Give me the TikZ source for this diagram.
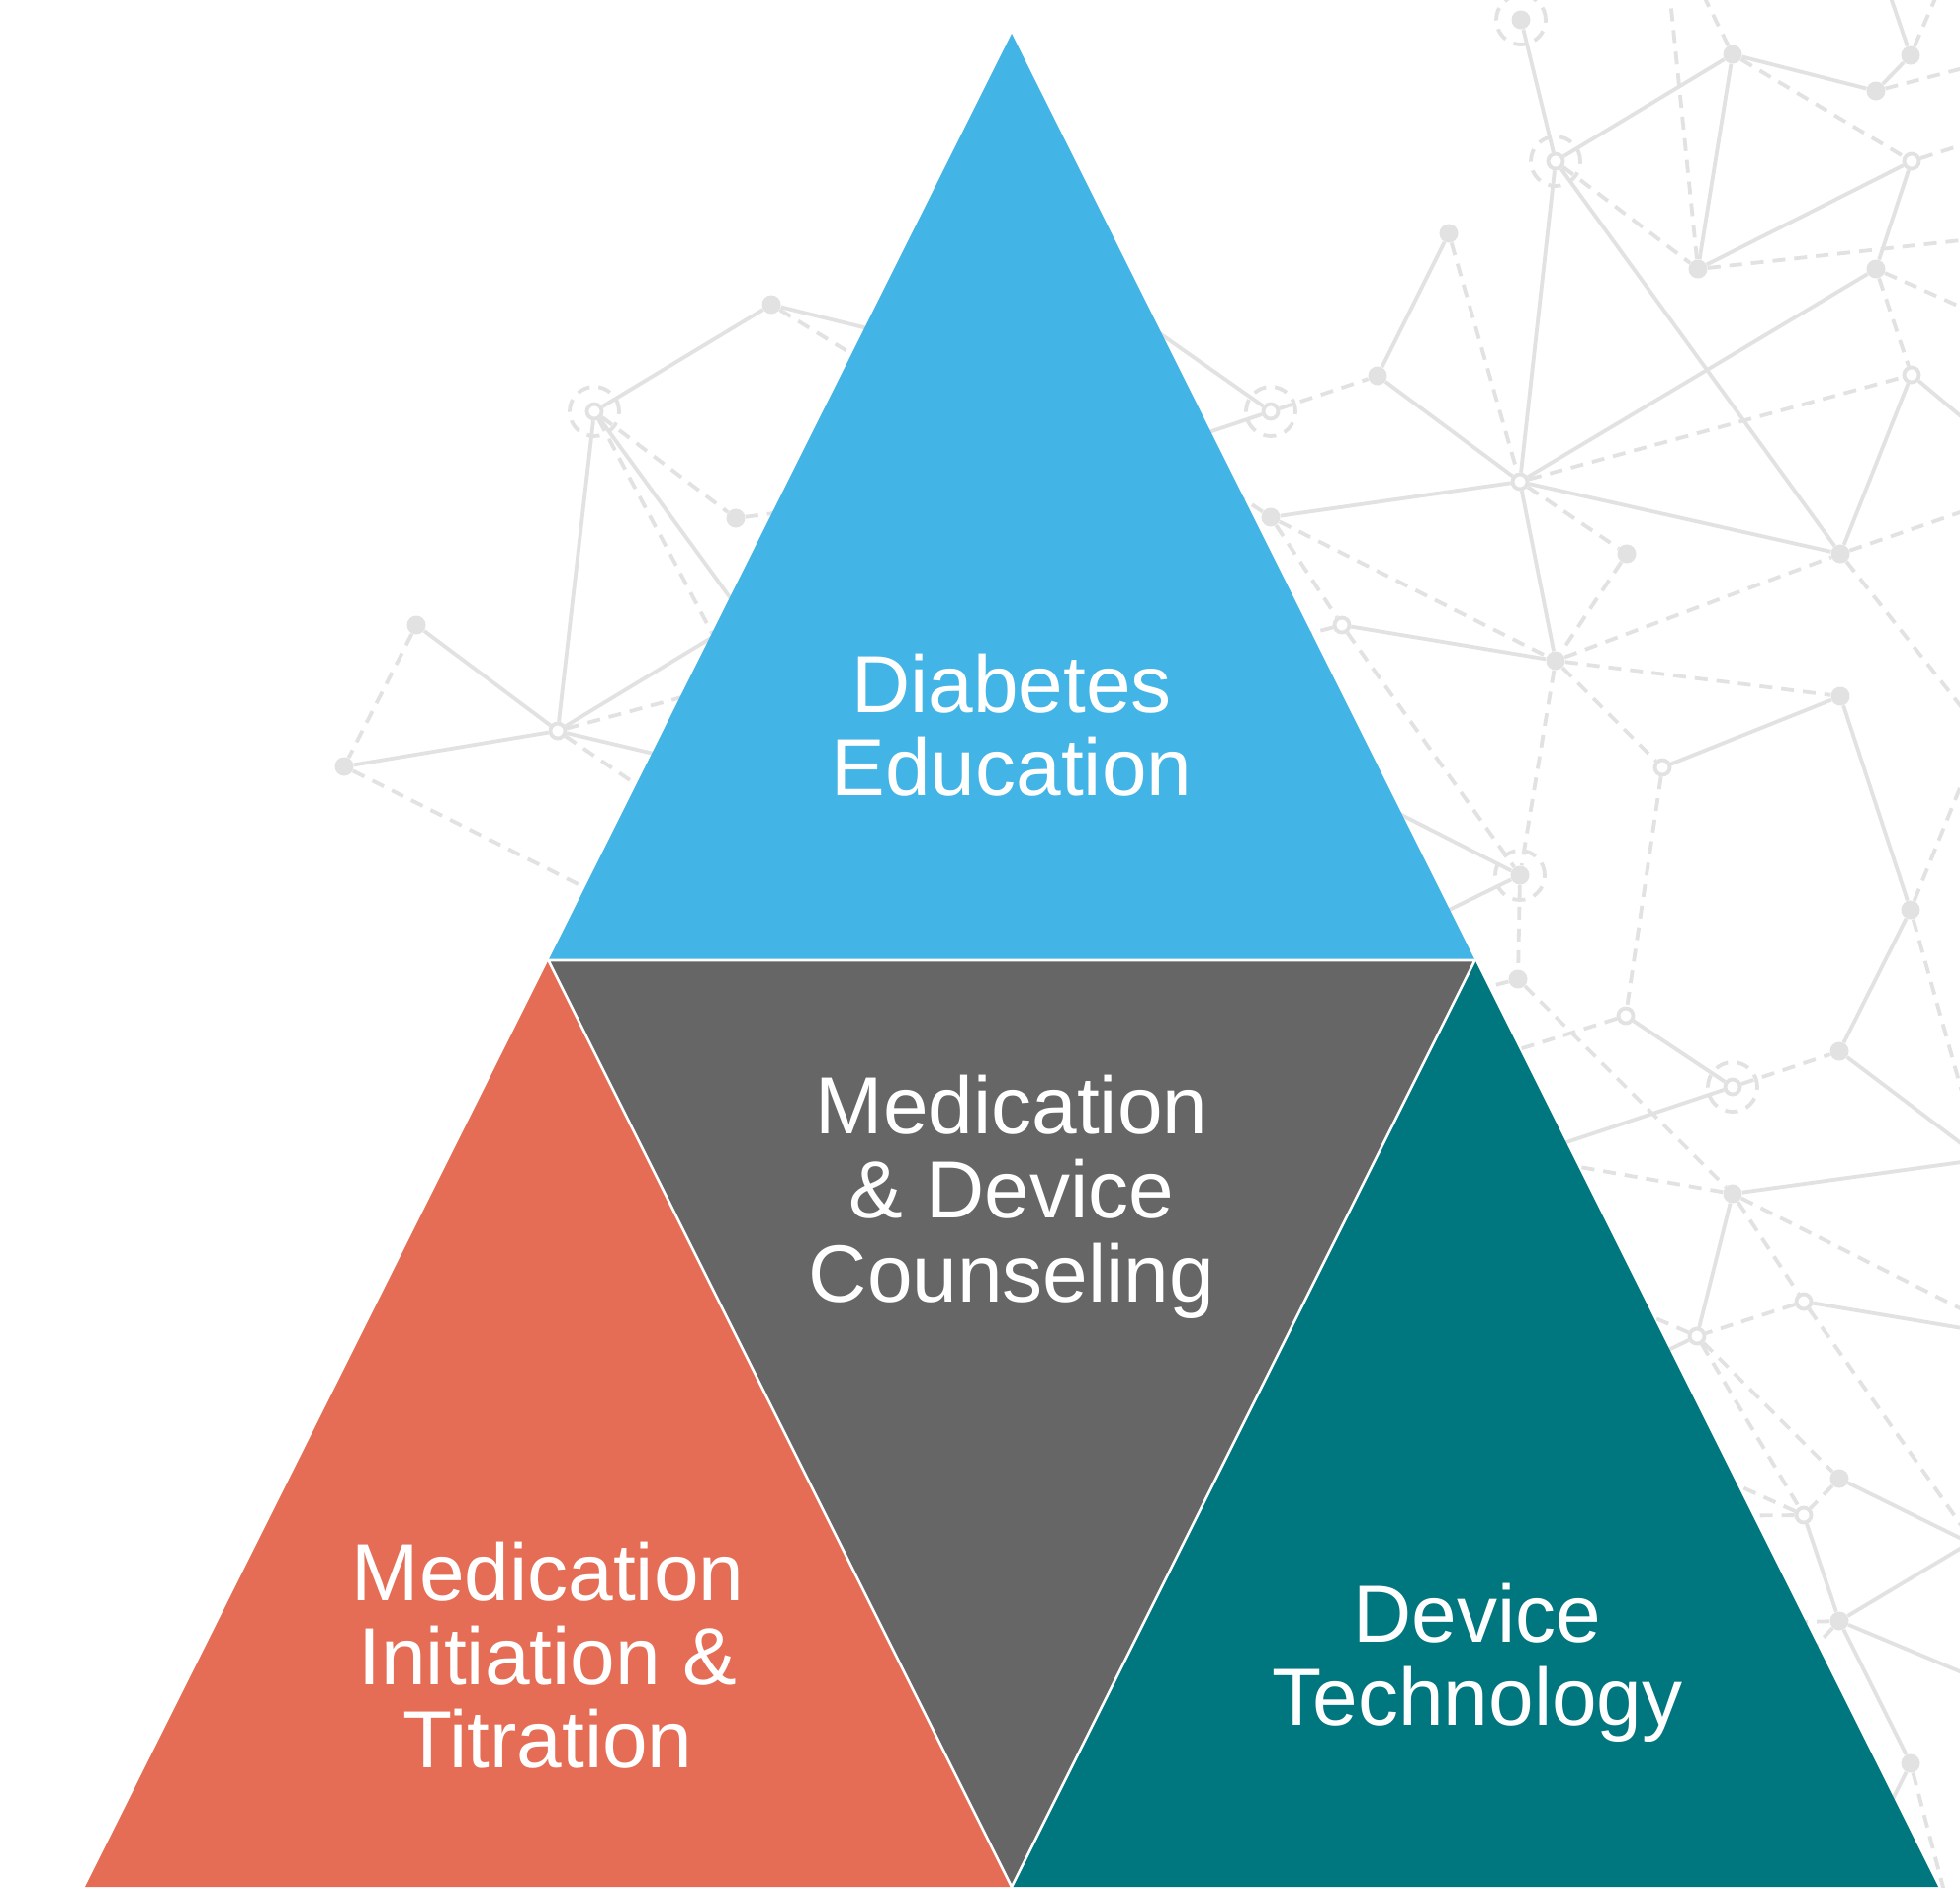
\documentclass[tikz,border=0pt]{standalone}
\usepackage{fontspec}
\setmainfont{Liberation Sans}
\definecolor{netgrey}{HTML}{E2E2E2}
\definecolor{triblue}{HTML}{42B4E6}
\definecolor{trigrey}{HTML}{666666}
\definecolor{triorange}{HTML}{E56D55}
\definecolor{triteal}{HTML}{00767F}
\tikzset{
  net/.style={draw=netgrey, line width=1.9pt},
  netd/.style={net, dash pattern=on 6.5pt off 4.5pt},
  fdot/.style={circle, fill=netgrey, inner sep=0pt, minimum size=9.5pt},
  odot/.style={circle, fill=white, draw=netgrey, line width=1.9pt, inner sep=0pt, minimum size=7.5pt},
  ringc/.style={circle, draw=netgrey, line width=1.9pt, dash pattern=on 6.5pt off 4.5pt, inner sep=0pt, minimum size=25pt},
  lbl/.style={text=white, font=\fontsize{41pt}{42.5pt}\selectfont, anchor=base, inner sep=0pt}
}
\begin{document}
\begin{tikzpicture}[x=0.5pt, y=-0.5pt]
\useasboundingbox (0,0) rectangle (1982,1908);
\clip (0,0) rectangle (1982,1908);
\fill[white] (0,0) rectangle (1982,1908);

% ---------- network nodes ----------
% left cluster
\node[fdot] (n1) at (780,308) {};
\node[odot] (n2) at (601,416) {};
\node[fdot] (n3) at (744,524) {};
\node[fdot] (n4) at (421,632) {};
\node[odot] (n5) at (564,739) {};
\node[fdot] (n6) at (348,775) {};
% middle / right
\node[odot] (m1) at (1285,416) {};
\node[fdot] (m2) at (1393,380) {};
\node[fdot] (m3) at (1465,236) {};
\node[odot] (m4) at (1537,487) {};
\node[fdot] (m5) at (1285,523) {};
\node[fdot] (m6) at (1645,560) {};
\node[odot] (m7) at (1357,632) {};
\node[fdot] (m8) at (1573,668) {};
\node[odot] (m9) at (1681,776) {};
\node[fdot] (m10) at (1861,704) {};
\node[fdot] (m11) at (1537,885) {};
\node[fdot] (m12) at (1535,990) {};
\node[odot] (m13) at (1644,1027) {};
\node[odot] (m14) at (1752,1099) {};
\node[fdot] (m15) at (1860,1063) {};
\node[fdot] (m16) at (1932,920) {};
\node[fdot] (m17) at (1752,1207) {};
\node[odot] (m18) at (1824,1316) {};
\node[odot] (m19) at (1716,1351) {};
\node[fdot] (m20) at (1860,1495) {};
\node[odot] (m21) at (1824,1532) {};
\node[fdot] (m22) at (1860,1639) {};
\node[fdot] (m23) at (1932,1783) {};
\node[odot] (m24) at (1992,1560) {};
% top right
\node[fdot] (t1) at (1538,20) {};
\node[fdot] (t2) at (1752,55) {};
\node[fdot] (t3) at (1932,56) {};
\node[fdot] (t4) at (1897,92) {};
\node[odot] (t5) at (1573,163) {};
\node[odot] (t6) at (1933,163) {};
\node[fdot] (t7) at (1717,272) {};
\node[fdot] (t8) at (1897,272) {};
\node[odot] (t9) at (1933,379) {};
\node[fdot] (t10) at (1861,560) {};
% dashed rings
\node[ringc] (r1) at (n2) {};
\node[ringc] (r2) at (m1) {};
\node[ringc] (r3) at (m11) {};
\node[ringc] (r4) at (m14) {};
\node[ringc] (r5) at (t1) {};
\node[ringc] (r6) at (t5) {};

% hidden ends (under the triangles)
\coordinate (h1) at (950,350);
\coordinate (h2) at (940,406);
\coordinate (h3) at (800,689);
\coordinate (h4) at (780,753);
\coordinate (h5) at (850,510);
\coordinate (h6) at (800,596);
\coordinate (h7) at (800,675);
\coordinate (h8) at (800,795);
\coordinate (h9) at (750,866);
\coordinate (h10) at (700,952);
\coordinate (h11) at (1120,300);
\coordinate (h12) at (1130,468);
\coordinate (h13) at (1200,466);
\coordinate (h14) at (1250,660);
\coordinate (h15) at (1380,805);
\coordinate (h16) at (1400,952);
\coordinate (h17) at (1420,1020);
\coordinate (h18) at (1460,1085);
\coordinate (h19) at (1500,1183);
\coordinate (h20) at (1500,1163);
\coordinate (h21) at (1600,1301);
\coordinate (h22) at (1600,1407);
\coordinate (h23) at (1700,1476);
\coordinate (h24) at (1700,1533);
\coordinate (h25) at (1750,1642);
\coordinate (h26) at (1780,1723);
\coordinate (h27) at (1880,1887);
% free ends beyond the border
\coordinate (o1) at (1990,777);
\coordinate (o2) at (1990,1125);
\coordinate (o3) at (2020,1184);
\coordinate (o4) at (2020,1170);
\coordinate (o5) at (2020,1342);
\coordinate (o6) at (2020,1349);
\coordinate (o7) at (2000,1566);
\coordinate (o8) at (2020,1706);
\coordinate (o9) at (1968,1920);
\coordinate (o10) at (2020,60);
\coordinate (o11) at (1965,-20);
\coordinate (o12) at (1906,-20);
\coordinate (o13) at (2020,135);
\coordinate (o14) at (2020,239);
\coordinate (o15) at (1687,-20);
\coordinate (o16) at (1715,-20);
\coordinate (o17) at (2020,327);
\coordinate (o18) at (2020,452);
\coordinate (o19) at (2020,505);
\coordinate (o20) at (2020,761);

% ---------- network edges ----------
% left
\draw[net] (n1) -- (n2);
\draw[net] (n1) -- (h1);
\draw[netd] (n1) -- (h2);
\draw[net] (n2) -- (n5);
\draw[netd] (n2) -- (n3);
\draw[net] (n2) -- (h3);
\draw[netd] (n2) -- (h4);
\draw[netd] (n3) -- (h5);
\draw[net] (n4) -- (n5);
\draw[netd] (n4) -- (n6);
\draw[net] (n5) -- (n6);
\draw[net] (n5) -- (h6);
\draw[netd] (n5) -- (h7);
\draw[net] (n5) -- (h8);
\draw[netd] (n5) -- (h9);
\draw[netd] (n6) -- (h10);
% middle
\draw[net] (m1) -- (h11);
\draw[net] (m1) -- (h12);
\draw[netd] (m1) -- (m2);
\draw[net] (m2) -- (m3);
\draw[net] (m2) -- (m4);
\draw[netd] (m3) -- (m4);
\draw[net] (m4) -- (t5);
\draw[net] (m4) -- (t8);
\draw[netd] (m4) -- (t9);
\draw[net] (m4) -- (t10);
\draw[net] (m4) -- (m5);
\draw[netd] (m4) -- (m6);
\draw[net] (m4) -- (m8);
\draw[netd] (m5) -- (h13);
\draw[netd] (m5) -- (m8);
\draw[netd] (m5) -- (m7);
\draw[netd] (m7) -- (m11);
\draw[net] (m7) -- (m8);
\draw[netd] (m7) -- (h14);
\draw[netd] (m6) -- (m8);
\draw[netd] (m8) -- (t10);
\draw[netd] (m8) -- (m10);
\draw[netd] (m8) -- (m9);
\draw[netd] (m8) -- (m11);
\draw[netd] (m11) -- (m12);
\draw[net] (m9) -- (m10);
\draw[netd] (m9) -- (m13);
\draw[net] (m10) -- (m16);
\draw[net] (m15) -- (m16);
\draw[netd] (m16) -- (o1);
\draw[netd] (m16) -- (o2);
\draw[net] (m11) -- (h15);
\draw[net] (m11) -- (h16);
\draw[netd] (m12) -- (h17);
\draw[netd] (m12) -- (m17);
\draw[netd] (m13) -- (h18);
\draw[net] (m13) -- (m14);
\draw[netd] (m14) -- (m15);
\draw[net] (m14) -- (h19);
\draw[net] (m15) -- (o3);
\draw[netd] (m17) -- (h20);
\draw[net] (m17) -- (o4);
\draw[net] (m17) -- (m19);
\draw[netd] (m17) -- (m18);
\draw[netd] (m17) -- (o5);
\draw[net] (m18) -- (o6);
\draw[netd] (m18) -- (m19);
\draw[netd] (m18) -- (o7);
\draw[netd] (m19) -- (h21);
\draw[net] (m19) -- (h22);
\draw[netd] (m19) -- (m21);
\draw[netd] (m19) -- (m20);
\draw[netd] (m20) -- (m21);
\draw[net] (m20) -- (m24);
\draw[netd] (m21) -- (h23);
\draw[netd] (m21) -- (h24);
\draw[net] (m21) -- (m22);
\draw[net] (m22) -- (m24);
\draw[net] (m22) -- (o8);
\draw[netd] (m22) -- (h25);
\draw[netd] (m22) -- (h26);
\draw[net] (m22) -- (m23);
\draw[net] (m23) -- (h27);
\draw[netd] (m23) -- (o9);
% top
\draw[net] (t1) -- (t5);
\draw[net] (t5) -- (t2);
\draw[net] (t5) -- (t10);
\draw[netd] (t5) -- (t7);
\draw[net] (t2) -- (t7);
\draw[net] (t2) -- (t4);
\draw[netd] (t2) -- (t6);
\draw[net] (t4) -- (t3);
\draw[netd] (t4) -- (o10);
\draw[netd] (t3) -- (o11);
\draw[net] (t3) -- (o12);
\draw[net] (t6) -- (t7);
\draw[net] (t6) -- (t8);
\draw[netd] (t6) -- (o13);
\draw[netd] (t7) -- (o14);
\draw[netd] (t7) -- (o15);
\draw[netd] (t2) -- (o16);
\draw[netd] (t8) -- (o17);
\draw[netd] (t8) -- (t9);
\draw[net] (t9) -- (t10);
\draw[net] (t9) -- (o18);
\draw[netd] (t10) -- (o19);
\draw[netd] (t10) -- (o20);

% ---------- triangles ----------
\coordinate (apex) at (1023,34);
\coordinate (ml) at (554.5,971);
\coordinate (mr) at (1491.5,971);
\coordinate (bl) at (86,1908);
\coordinate (bm) at (1023,1908);
\coordinate (br) at (1960,1908);
\fill[triblue] (apex) -- (mr) -- (ml) -- cycle;
\fill[triorange] (ml) -- (bm) -- (bl) -- cycle;
\fill[triteal] (mr) -- (br) -- (bm) -- cycle;
\fill[trigrey] (ml) -- (mr) -- (bm) -- cycle;
\draw[white, line width=1.3pt, line join=miter] (ml) -- (mr) -- (bm) -- cycle;

% ---------- labels ----------
\node[lbl] (l1a) at (1023,720) {Diabetes};
\node[lbl] (l1b) at (1023,804) {Education};
\node[lbl] (l2a) at (1023,1146) {Medication};
\node[lbl] (l2b) at (1023,1231) {\& Device};
\node[lbl] (l2c) at (1023,1316) {Counseling};
\node[lbl] (l3a) at (554,1618) {Medication};
\node[lbl] (l3b) at (554,1703) {Initiation \&};
\node[lbl] (l3c) at (554,1787) {Titration};
\node[lbl] (l4a) at (1494,1660) {Device};
\node[lbl] (l4b) at (1494,1744) {Technology};
\end{tikzpicture}
\end{document}
